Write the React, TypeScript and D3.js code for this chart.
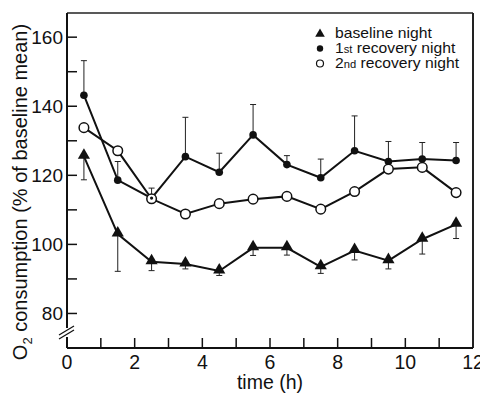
import React from 'react';
import * as d3 from 'd3';

const hours = [0.5, 1.5, 2.5, 3.5, 4.5, 5.5, 6.5, 7.5, 8.5, 9.5, 10.5, 11.5];
const baseline = [125.5, 103, 95, 94.3, 92.3, 99, 99, 93.5, 98.2, 95.3, 101.5, 105.8];
const baselineLow = [118.7, 92.2, 92.4, 92.9, 91, 96.8, 96.9, 91.6, 95.5, 92.9, 97.2, 101.7];
const recovery1 = [143.2, 118.6, 113.4, 125.4, 120.9, 131.7, 123.1, 119.3, 127.1, 124, 124.7, 124.3];
const recovery1High = [153.2, 124, 116.3, 136.8, 126.4, 140.5, 125.7, 124.7, 137.2, 129.8, 129.5, 129.5];
const recovery2 = [133.8, 127.1, 113.2, 108.8, 111.8, 113.1, 113.9, 110.2, 115.3, 121.8, 122.3, 115];

const xTicks = [0, 2, 4, 6, 8, 10, 12];
const xMinor = [1, 2, 3, 4, 5, 6, 7, 8, 9, 10, 11];
const yTicks = [80, 100, 120, 140, 160];
const yMinor = [80, 90, 100, 110, 120, 130, 140, 150, 160];

const font = '"Liberation Sans", Arial, Helvetica, sans-serif';

export default function App() {
  const left = 67, right = 473, top = 13, bottom = 348;
  const x = d3.scaleLinear().domain([0, 12]).range([left, right]);
  const y = d3.scaleLinear().domain([70, 167]).range([bottom, top]);

  const line = d3.line<number>()
    .x((_, i) => x(hours[i]))
    .y(d => y(d));

  const tri = d3.symbol().type(d3.symbolTriangle).size(64)();
  const triLegend = d3.symbol().type(d3.symbolTriangle).size(40)();

  const breakTop = 328, breakBot = 337;

  return (
    <svg width={480} height={393} style={{ position: 'absolute', left: 0, top: 0 }} fontFamily={font}>
      <rect width={480} height={393} fill="white" />

      {/* frame */}
      <line x1={left} x2={right} y1={top} y2={top} stroke="#222" strokeWidth={1.5} />
      <line x1={right} x2={right} y1={top} y2={bottom} stroke="#222" strokeWidth={2} />
      <line x1={left} x2={right} y1={bottom} y2={bottom} stroke="#111" strokeWidth={2} />
      <line x1={left} x2={left} y1={top} y2={breakTop} stroke="#111" strokeWidth={2} />
      <line x1={left} x2={left} y1={breakBot} y2={bottom} stroke="#111" strokeWidth={2} />
      <line x1={59} x2={74} y1={335} y2={326} stroke="#111" strokeWidth={1.3} />
      <line x1={59} x2={74} y1={339} y2={330} stroke="#111" strokeWidth={1.3} />

      {/* y ticks */}
      {yMinor.map(t => (
        <line key={'ym' + t} x1={left} x2={left + 10} y1={y(t)} y2={y(t)} stroke="#111" strokeWidth={1.5} />
      ))}
      {yTicks.map(t => (
        <text key={'yt' + t} x={63} y={y(t)} dy="0.36em" textAnchor="end" fontSize={19} fill="#111">{t}</text>
      ))}

      {/* x ticks */}
      {xMinor.map(t => (
        <line key={'xm' + t} x1={x(t)} x2={x(t)} y1={bottom} y2={bottom - 10} stroke="#111" strokeWidth={1.5} />
      ))}
      {xTicks.map(t => (
        <text key={'xt' + t} x={x(t)} y={369} textAnchor="middle" fontSize={19.5} fill="#111">{t}</text>
      ))}

      <text x={x(6)} y={389} textAnchor="middle" fontSize={19.5} fill="#111">time (h)</text>
      <text transform="translate(27,192) rotate(-90)" textAnchor="middle" fontSize={20} fill="#111">
        O<tspan fontSize={13} dy={5}>2</tspan><tspan dy={-5}> consumption (% of baseline mean)</tspan>
      </text>

      {/* error bars */}
      {hours.map((h, i) => (
        <g key={'eb' + i} stroke="#222" strokeWidth={1}>
          <line x1={x(h)} x2={x(h)} y1={y(baseline[i])} y2={y(baselineLow[i])} />
          <line x1={x(h) - 3} x2={x(h) + 3} y1={y(baselineLow[i])} y2={y(baselineLow[i])} />
          <line x1={x(h)} x2={x(h)} y1={y(recovery1[i])} y2={y(recovery1High[i])} />
          <line x1={x(h) - 3} x2={x(h) + 3} y1={y(recovery1High[i])} y2={y(recovery1High[i])} />
        </g>
      ))}

      {/* lines */}
      <path d={line(baseline) || ''} fill="none" stroke="#111" strokeWidth={2} />
      <path d={line(recovery1) || ''} fill="none" stroke="#111" strokeWidth={2} />
      <path d={line(recovery2) || ''} fill="none" stroke="#111" strokeWidth={2} />

      {/* markers */}
      {baseline.map((v, i) => (
        <path key={'b' + i} d={tri || ''} transform={`translate(${x(hours[i])},${y(v) - 1})`} fill="#111" />
      ))}
      {recovery1.map((v, i) => (
        <circle key={'r1' + i} cx={x(hours[i])} cy={y(v)} r={3.8} fill="#111" />
      ))}
      {recovery2.map((v, i) => (
        <circle key={'r2' + i} cx={x(hours[i])} cy={y(v)} r={4.8} fill="white" stroke="#111" strokeWidth={1.5} />
      ))}
      {recovery2.map((v, i) =>
        Math.abs(v - recovery1[i]) < 1 ? (
          <circle key={'ov' + i} cx={x(hours[i])} cy={y(recovery1[i])} r={1.6} fill="#111" />
        ) : null
      )}

      {/* legend */}
      <path d={triLegend || ''} transform="translate(320,34)" fill="#111" />
      <circle cx={320} cy={48.5} r={3.2} fill="#111" />
      <circle cx={320} cy={63.5} r={3.5} fill="white" stroke="#111" strokeWidth={1.2} />
      <g transform="translate(335,0) scale(1.12,1)" fontSize={14} fill="#111">
        <text x={0} y={38.5}>baseline night</text>
        <text x={0} y={53.5}>1<tspan fontSize={10}>st</tspan>  recovery night</text>
        <text x={0} y={68.5}>2<tspan fontSize={10}>nd</tspan> recovery night</text>
      </g>
    </svg>
  );
}
